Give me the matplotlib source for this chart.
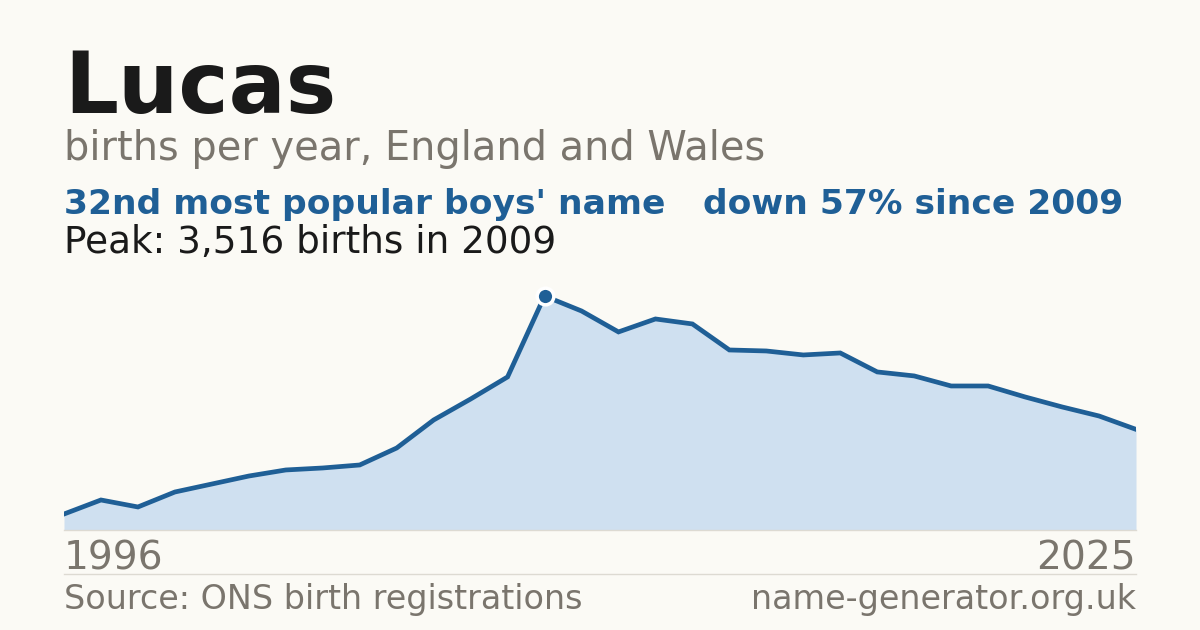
import numpy as np
import matplotlib
matplotlib.use("Agg")
import matplotlib.pyplot as plt

plt.rcParams['font.family'] = ['DejaVu Sans']

# births per year for "Lucas"
years = list(range(1996, 2026))
births = [240, 451, 346, 571, 691, 811, 902, 932, 977, 1232,
          1653, 1968, 2300, 3516, 3291, 2976, 3171, 3096, 2705, 2690,
          2630, 2660, 2375, 2315, 2164, 2164, 1999, 1849, 1713, 1512]

name = "Lucas"
subtitle = "births per year, England and Wales"
rank_text = "32nd most popular boys' name"
trend_text = "down 57% since 2009"
peak_year = 2009
peak_value = 3516
source = "Source: ONS birth registrations"
site = "name-generator.org.uk"

BG = "#fbfaf5"
BLUE = "#1f5f96"
FILL = "#cfe0f0"
GREY = "#7a756d"
DARK = "#1a1a1a"
RULE = "#dddad2"

W, H = 1200, 630
fig = plt.figure(figsize=(12, 6.3), dpi=100, facecolor=BG)

def fy(px):
    return 1 - px / H

# chart area: x 64..1136, bottom at 530 px
ax = fig.add_axes([64 / W, (H - 530) / H, 1072 / W, 250 / H])
ax.set_facecolor("none")
ax.fill_between(years, births, 0, color=FILL, lw=0)
ax.plot(years, births, color=BLUE, lw=3.4, solid_joinstyle="miter")
ax.plot([peak_year], [peak_value], "o", ms=12, color=BLUE,
        mec="white", mew=2.5, clip_on=False, zorder=5)
ax.set_xlim(years[0], years[-1])
ax.set_ylim(0, peak_value * 250 / 234)
ax.axis("off")

# rules under the chart and above the footer
fig.add_artist(plt.Line2D([64 / W, 1136 / W], [fy(530), fy(530)], color=RULE, lw=1))
fig.add_artist(plt.Line2D([64 / W, 1136 / W], [fy(574), fy(574)], color=RULE, lw=1))

fig.text(64 / W, fy(113), name, fontsize=61, fontweight="bold", color=DARK, va="baseline")
fig.text(64 / W, fy(160), subtitle, fontsize=28.7, color=GREY, va="baseline")
fig.text(64 / W, fy(214), rank_text, fontsize=24.8, fontweight="bold", color=BLUE, va="baseline")
fig.text(703 / W, fy(214), trend_text, fontsize=24.8, fontweight="bold", color=BLUE, va="baseline")
fig.text(64 / W, fy(253), f"Peak: {peak_value:,} births in {peak_year}",
         fontsize=26.9, color=DARK, va="baseline")

fig.text(64 / W, fy(570), str(years[0]), fontsize=28.2, color=GREY, va="baseline")
fig.text(1136 / W, fy(570), str(years[-1]), fontsize=28.2, color=GREY, va="baseline", ha="right")
fig.text(64 / W, fy(609), source, fontsize=24, color=GREY, va="baseline")
fig.text(1136 / W, fy(609), site, fontsize=24, color=GREY, va="baseline", ha="right")

fig.savefig("out.png", dpi=100, facecolor=BG)
